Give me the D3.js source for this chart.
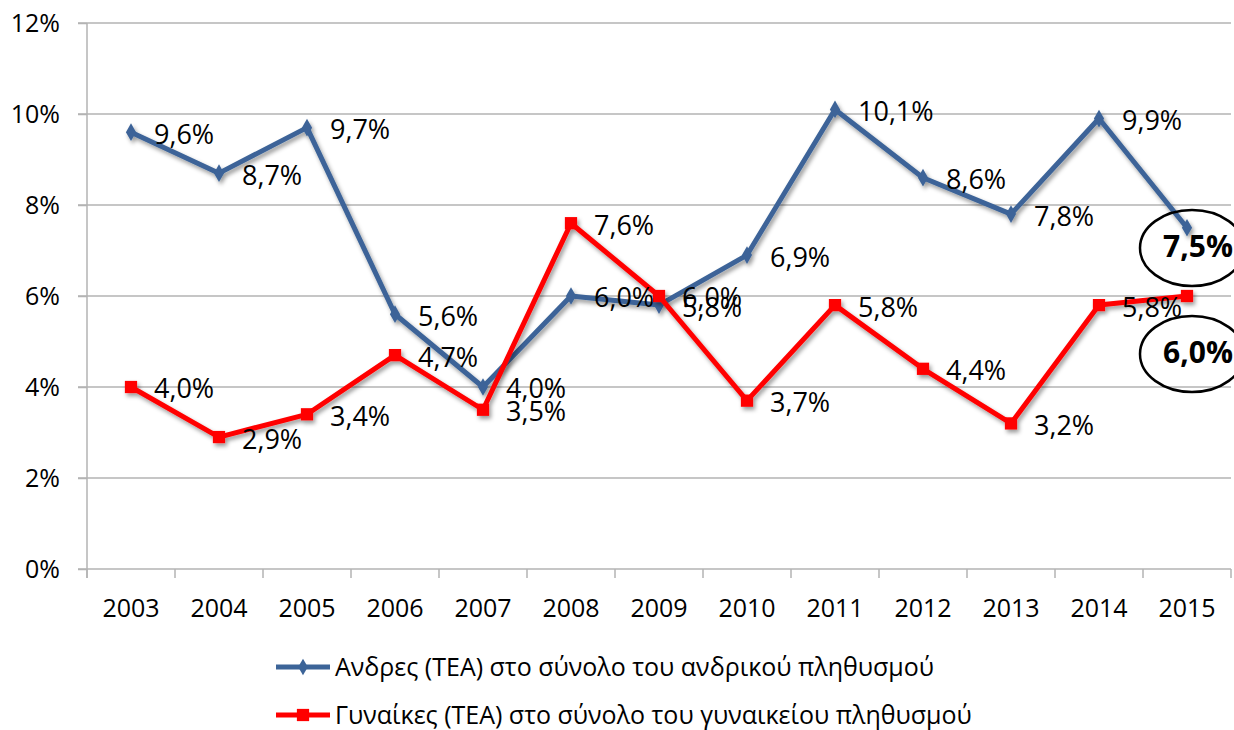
<!DOCTYPE html>
<html lang="el">
<head>
    <meta charset="UTF-8">
    <title>TEA ανά φύλο 2003-2015</title>
    <script src="https://d3js.org/d3.v7.min.js"></script>
    <style>
        body { margin: 0; background: #fff; }
        text { font-family: "Open Sans", "Noto Sans", sans-serif; fill: #000; }
        .grid line, .axis line, .axis path { stroke: #b3b3b3; stroke-width: 1.5; }
    </style>
</head>
<body>
    <svg id="chart" width="1234" height="730"></svg>
    <script>
        const years = ["2003", "2004", "2005", "2006", "2007", "2008", "2009", "2010", "2011", "2012", "2013", "2014", "2015"];
        const men = [9.6, 8.7, 9.7, 5.6, 4.0, 6.0, 5.8, 6.9, 10.1, 8.6, 7.8, 9.9, 7.5];
        const women = [4.0, 2.9, 3.4, 4.7, 3.5, 7.6, 6.0, 3.7, 5.8, 4.4, 3.2, 5.8, 6.0];
        const yTicks = [0, 2, 4, 6, 8, 10, 12];
        const seriesNames = [
            "Ανδρες (ΤΕΑ) στο σύνολο του ανδρικού πληθυσμού",
            "Γυναίκες (ΤΕΑ) στο σύνολο του γυναικείου πληθυσμού"
        ];

        const svg = d3.select("#chart");
        const mLeft = 87, mRight = 1231, mTop = 23, mBottom = 569;

        const x = d3.scaleBand().domain(years).range([mLeft, mRight]);
        const y = d3.scaleLinear().domain([0, 12]).range([mBottom, mTop]);
        const fmt = v => v.toFixed(1).replace(".", ",") + "%";

        // soft shadow like the excel lines
        const f = svg.append("defs").append("filter").attr("id", "shadow")
            .attr("x", "-5%").attr("y", "-5%").attr("width", "110%").attr("height", "120%");
        f.append("feDropShadow").attr("dx", 2).attr("dy", 3).attr("stdDeviation", 2.2)
            .attr("flood-color", "#000").attr("flood-opacity", 0.4);

        // gridlines
        svg.append("g").attr("class", "grid")
            .selectAll("line").data(yTicks.slice(1)).join("line")
            .attr("x1", mLeft - 9).attr("x2", mRight)
            .attr("y1", d => y(d)).attr("y2", d => y(d));

        // y axis
        const yAxis = svg.append("g").attr("class", "axis")
            .attr("transform", `translate(${mLeft},0)`)
            .call(d3.axisLeft(y).tickValues(yTicks).tickSize(9).tickPadding(18).tickFormat(d => d + "%"));
        yAxis.select(".domain").remove();
        yAxis.selectAll("text").style("font-size", "25px");

        // x axis with ticks between categories
        const xAxis = svg.append("g").attr("class", "axis")
            .attr("transform", `translate(0,${mBottom})`);
        xAxis.append("line").attr("x1", mLeft - 9).attr("x2", mRight);
        xAxis.selectAll(".tk").data(years).join("line").attr("class", "tk")
            .attr("x1", d => x(d)).attr("x2", d => x(d)).attr("y1", 0).attr("y2", 9);
        xAxis.append("line").attr("x1", mRight).attr("x2", mRight).attr("y1", 0).attr("y2", 9);
        xAxis.selectAll(".lb").data(years).join("text").attr("class", "lb")
            .attr("x", d => x(d) + x.bandwidth() / 2).attr("y", 48)
            .attr("text-anchor", "middle").style("font-size", "25px").text(d => d);
        svg.append("line").attr("x1", mLeft).attr("x2", mLeft).attr("y1", mTop).attr("y2", mBottom + 9)
            .attr("stroke", "#b3b3b3").attr("stroke-width", 1.5);

        const cx = (d, i) => x(years[i]) + x.bandwidth() / 2;
        const line = d3.line().x(cx).y(d => y(d));

        const series = [
            { values: men, color: "#3c6498", marker: "diamond" },
            { values: women, color: "#ff0000", marker: "square" }
        ];

        series.forEach(s => {
            const g = svg.append("g").attr("filter", "url(#shadow)");
            g.append("path").datum(s.values).attr("d", line)
                .attr("fill", "none").attr("stroke", s.color).attr("stroke-width", 5)
                .attr("stroke-linejoin", "round");
            const sym = s.marker === "diamond"
                ? d3.symbol().type(d3.symbolDiamond).size(90)
                : d3.symbol().type(d3.symbolSquare).size(150);
            g.selectAll(".m").data(s.values).join("path")
                .attr("transform", (d, i) => `translate(${cx(d, i)},${y(d)})`)
                .attr("d", sym).attr("fill", s.color);
        });

        // data labels (last year handled separately)
        [men, women].forEach(vals => {
            svg.append("g").selectAll("text").data(vals.slice(0, -1)).join("text")
                .attr("x", (d, i) => cx(d, i) + 23).attr("y", d => y(d) + 2)
                .attr("dy", "0.35em").style("font-size", "27px").text(fmt);
        });

        // 2015 highlighted labels with ellipses
        const last = years.length - 1;
        const hl = [
            { v: men[last], cy: 248 },
            { v: women[last], cy: 354 }
        ];
        hl.forEach(h => {
            svg.append("ellipse").attr("cx", 1192).attr("cy", h.cy).attr("rx", 52).attr("ry", 38)
                .attr("fill", "none").attr("stroke", "#000").attr("stroke-width", 2.5);
            svg.append("text").attr("x", 1198).attr("y", h.cy - 2).attr("dy", "0.35em")
                .attr("text-anchor", "middle").style("font-size", "30px").style("font-weight", "bold")
                .text(fmt(h.v));
        });

        // legend
        const lg = svg.append("g");
        series.forEach((s, i) => {
            const ly = 667 + i * 48;
            lg.append("line").attr("x1", 276).attr("x2", 330).attr("y1", ly).attr("y2", ly)
                .attr("stroke", s.color).attr("stroke-width", 5);
            const sym = s.marker === "diamond"
                ? d3.symbol().type(d3.symbolDiamond).size(80)
                : d3.symbol().type(d3.symbolSquare).size(150);
            lg.append("path").attr("transform", `translate(303,${ly})`).attr("d", sym).attr("fill", s.color);
            lg.append("text").attr("x", 335).attr("y", ly).attr("dy", "0.35em")
                .style("font-size", "25px").text(seriesNames[i]);
        });
    </script>
</body>
</html>
